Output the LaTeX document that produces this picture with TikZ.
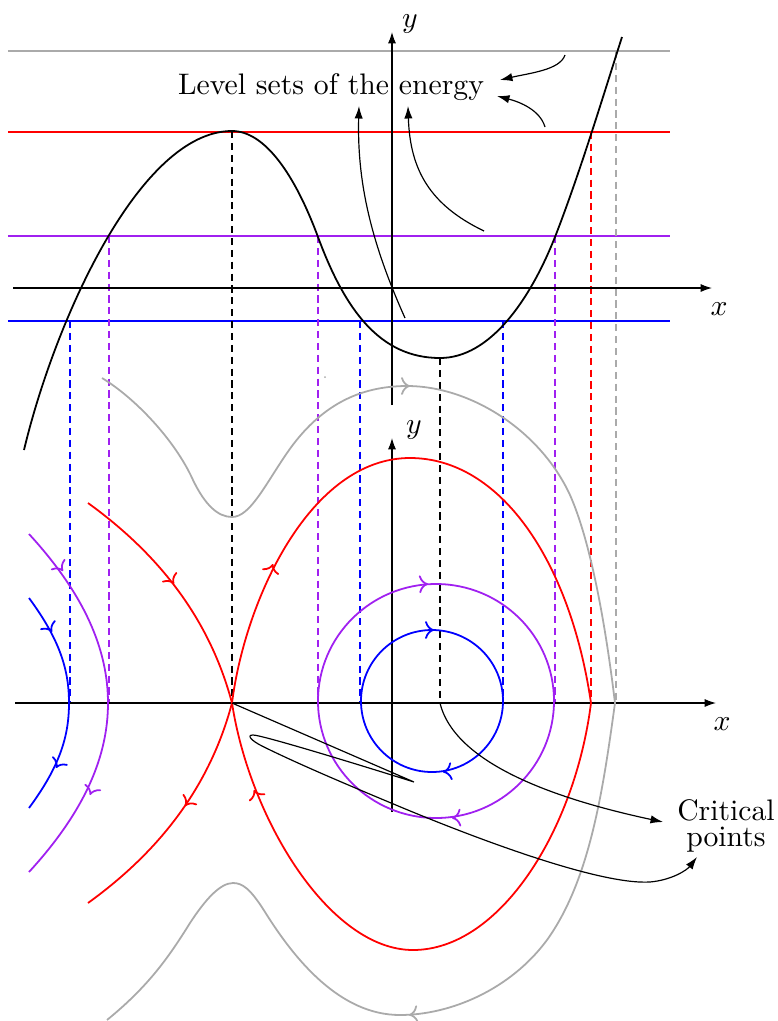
\documentclass[tikz,border=0pt]{standalone}
\usetikzlibrary{arrows.meta}
\definecolor{mypurple}{RGB}{160,32,240}
\definecolor{mygray}{RGB}{170,170,170}
\begin{document}
\begin{tikzpicture}[x=0.3367pt,y=-0.3367pt,
  lvl/.style={line width=0.6pt},
  drop/.style={line width=0.6pt,dash pattern=on 2.4pt off 1.6pt},
  traj/.style={line width=0.6pt},
  tip/.style={line width=0.6pt,-{To[length=3pt,width=6pt]}},
  ann/.style={line width=0.4pt,-{Latex[length=4.2pt,width=2.8pt]}},
  axis/.style={line width=0.4pt,-{Latex[length=3.8pt,width=2.7pt]}}]
\useasboundingbox (0,0) rectangle (778,1021);

% named points
\coordinate (saddle) at (232,703);
\coordinate (center) at (440,703);
\coordinate (pmax) at (232,131);
\coordinate (pmin) at (440,358);

% level sets
\draw[lvl,mygray] (8,51) -- (670,51);
\draw[lvl,red] (8,132) -- (670,132);
\draw[lvl,mypurple] (8,236) -- (670,236);
\draw[lvl,blue] (8,321) -- (670,321);

% dashed drops
\draw[drop,black] (pmax) -- (saddle);
\draw[drop,black] (pmin) -- (center);
\draw[drop,blue] (70,321) -- (70,703);
\draw[drop,blue] (360,321) -- (360,703);
\draw[drop,blue] (503,321) -- (503,703);
\draw[drop,mypurple] (109,236) -- (109,703);
\draw[drop,mypurple] (318,236) -- (318,703);
\draw[drop,mypurple] (555,236) -- (555,703);
\draw[drop,red] (591,132) -- (591,703);
\draw[drop,mygray] (616,51) -- (616,703);

% top axes
\draw[axis] (13,288) -- (712,288);
\node (xtop) at (719,309) {$x$};
\draw[axis] (392,405) -- (392,32);
\node (ytop) at (410,24) {$y$};

% potential
\draw[line width=0.6pt] (24,450) .. controls (55,320) and (140,131) .. (pmax)
  .. controls (265,131) and (295,175) .. (318,237)
  .. controls (345,310) and (380,358) .. (pmin)
  .. controls (490,358) and (530,300) .. (555,237)
  .. controls (580,173) and (605,90) .. (622,37);

% label level sets
\node (lvltext) at (331,87) {Level sets of the energy};
\coordinate (la1) at (565,55);  \coordinate (lt1) at (500,80);
\coordinate (la2) at (545,127); \coordinate (lt2) at (497,96);
\coordinate (la3) at (405,318); \coordinate (lt3) at (359,106);
\coordinate (la4) at (484,231); \coordinate (lt4) at (408,106);
\draw[ann] (la1) .. controls (560,70) and (530,73) .. (lt1);
\draw[ann] (la2) .. controls (540,110) and (520,102) .. (lt2);
\draw[ann] (la3) .. controls (370,240) and (357,180) .. (lt3);
\draw[ann] (la4) .. controls (430,205) and (410,170) .. (lt4);

% bottom axes
\draw[axis] (15,703) -- (716,703);
\node (xbot) at (722,724) {$x$};
\draw[axis] (392,812) -- (392,438);
\node (ybot) at (414,430) {$y$};

% grey outer trajectory
\draw[traj,mygray] (102,378) .. controls (135,398) and (175,440) .. (193,480)
  .. controls (205,505) and (218,517) .. (232,517)
  .. controls (250,517) and (265,485) .. (287,453)
  .. controls (320,405) and (360,386) .. (407,386)
  .. controls (470,386) and (540,430) .. (570,495)
  .. controls (590,540) and (605,620) .. (615,703);
\draw[traj,mygray] (615,703) .. controls (603,790) and (590,880) .. (547,940)
  .. controls (510,990) and (450,1015) .. (400,1015)
  .. controls (340,1015) and (295,960) .. (265,912)
  .. controls (250,888) and (242,883) .. (233,883)
  .. controls (220,883) and (205,900) .. (190,923)
  .. controls (170,955) and (150,985) .. (107,1020);
\fill[mygray] (325,377) circle[radius=1];
\draw[tip,mygray] (408,386) -- (410,386);
\draw[tip,mygray] (411,1014.8) -- (409,1015);

% red separatrices
\draw[traj,red] (saddle) .. controls (245,600) and (310,458) .. (410,458)
  .. controls (500,458) and (570,560) .. (591,703);
\draw[traj,red] (591,703) .. controls (575,830) and (500,950) .. (413,950)
  .. controls (330,950) and (250,820) .. (saddle);
\draw[traj,red] (88,503) .. controls (160,555) and (210,620) .. (saddle);
\draw[traj,red] (saddle) .. controls (210,786) and (160,851) .. (88,903);
\draw[tip,red] (172.9,582.3) -- (174,584);
\draw[tip,red] (186.2,804.4) -- (185,806);
\draw[tip,red] (272.4,565.9) -- (273,564);
\draw[tip,red] (254.8,791.9) -- (254,790);

% left arcs
\draw[traj,blue] (29,598) .. controls (60,640) and (69,670) .. (69,703)
  .. controls (69,736) and (60,766) .. (29,808);
\draw[traj,mypurple] (29,534) .. controls (85,595) and (108,650) .. (108,703)
  .. controls (108,756) and (85,811) .. (29,872);
\draw[tip,blue] (51,630.3) -- (52,632);
\draw[tip,blue] (57,766.2) -- (56,768);
\draw[tip,mypurple] (61.8,569.4) -- (63,571);
\draw[tip,mypurple] (90.7,793.1) -- (90,795);

% closed orbits
\draw[traj,blue] (432,701) ellipse[x radius=71,y radius=71];
\draw[traj,mypurple] (436,701) ellipse[x radius=118,y radius=117];
\draw[tip,blue] (432,630) -- (434,630);
\draw[tip,blue] (445,771.8) -- (443,772);
\draw[tip,mypurple] (426,584.06) -- (428,584);
\draw[tip,mypurple] (454,817.9) -- (452,818);

% critical points label
\node[align=center] (crit) at (726,826) {Critical\\[-3.5pt]points};
\coordinate (ct1) at (663,822);
\coordinate (ct2) at (697,857);
\draw[ann] (center) .. controls (455,765) and (560,800) .. (ct1);
\draw[ann] (saddle) -- (414,782) .. controls (360,765) and (262,735) .. (253,735)
  .. controls (246,735) and (252,741) .. (262,746)
  .. controls (300,765) and (360,790) .. (403,808)
  .. controls (480,840) and (600,885) .. (650,882)
  .. controls (672,880) and (687,870) .. (ct2);
\end{tikzpicture}
\end{document}
